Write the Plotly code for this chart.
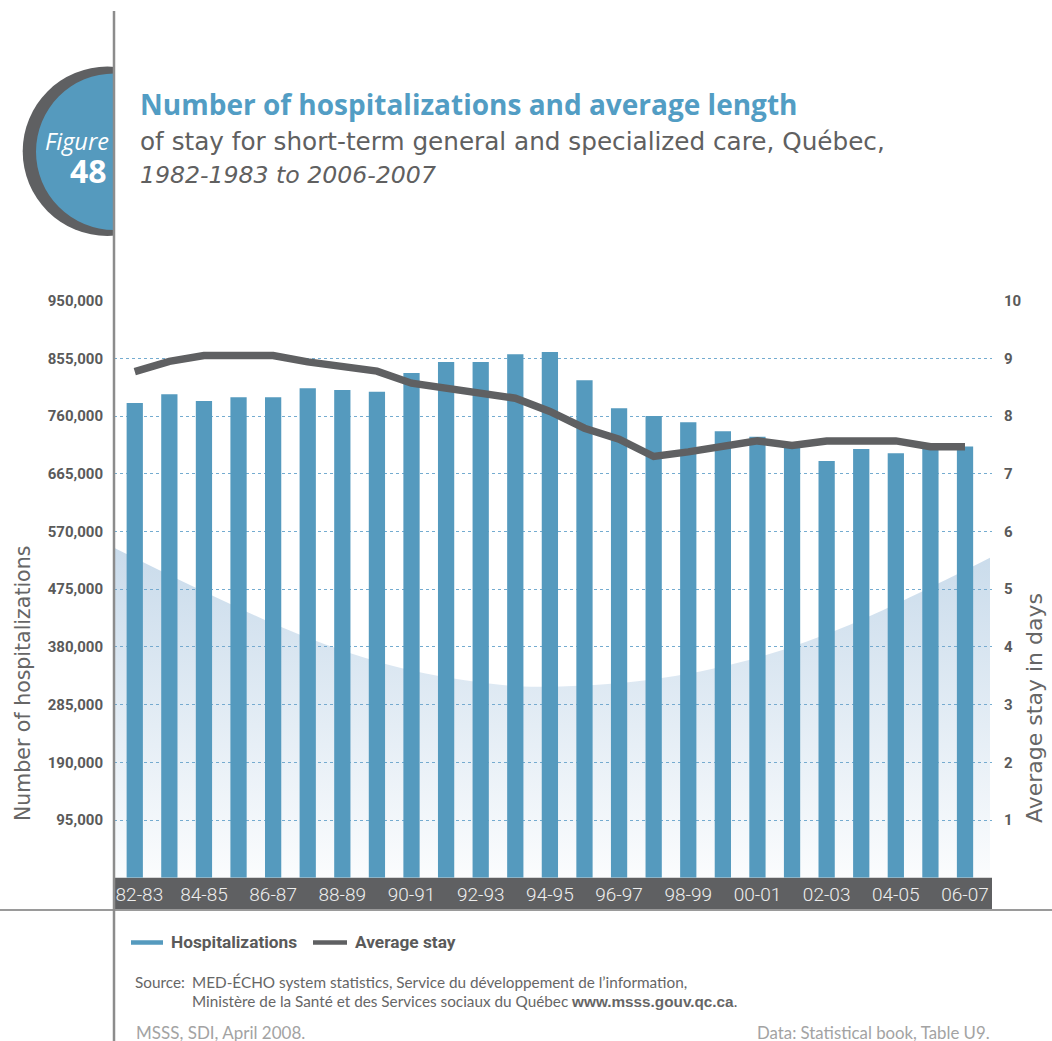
import plotly.graph_objects as go

W, H = 1052, 1041
M = 30  # fixed inner margin; everything below is placed in page pixels

seasons = ["82-83", "83-84", "84-85", "85-86", "86-87", "87-88", "88-89", "89-90",
           "90-91", "91-92", "92-93", "93-94", "94-95", "95-96", "96-97", "97-98",
           "98-99", "99-00", "00-01", "01-02", "02-03", "03-04", "04-05", "05-06", "06-07"]
hospitalizations = [781500, 796000, 785000, 791000, 791000, 806000, 803000, 800000,
                    831000, 849000, 849000, 862000, 865500, 819000, 773000, 760000,
                    750000, 735000, 726000, 710000, 686000, 706000, 699000, 710000, 710000]
average_stay = [8.77, 8.95, 9.05, 9.05, 9.05, 8.94, 8.86, 8.78, 8.57, 8.48, 8.38, 8.31,
                8.08, 7.79, 7.6, 7.3, 7.38, 7.47, 7.57, 7.49, 7.57, 7.57, 7.57, 7.47, 7.47]
label_seasons = seasons[::2]
hosp_ticks = [95000 * k for k in range(1, 11)]
stay_ticks = list(range(1, 11))

# decorative backdrop curve (pixels from plot's bottom-left corner)
backdrop_x = [0, 86, 186, 286, 386, 436, 536, 636, 736, 836, 876]
backdrop_h = [330, 288, 243, 210, 193, 191, 198, 218, 253, 300, 320]

BLUE = "#559abe"
DARK = "#5f6062"
TXT = "#5a5a5a"
NARROW = "Roboto, sans-serif"


def px(x):
    return (x - M) / (W - 2 * M)


def py(y):
    return 1 - (y - M) / (H - 2 * M)


PL, PR, PT, PB = 114, 992, 300.7, 877.7

fig = go.Figure()

# backdrop on the base axes (drawn under the overlaid bar/line subplots)
fig.add_trace(go.Scatter(
    x=backdrop_x, y=backdrop_h, mode="lines", line=dict(width=0, shape="spline"),
    fill="tozeroy",
    fillgradient=dict(type="vertical", start=0, stop=330,
                      colorscale=[[0, "rgba(120,165,205,0.03)"], [1, "rgba(120,165,205,0.40)"]]),
    hoverinfo="skip", showlegend=False, xaxis="x", yaxis="y"))

fig.add_trace(go.Bar(
    x=seasons, y=hospitalizations, width=0.47, marker=dict(color=BLUE, line=dict(width=0)),
    name="Hospitalizations", xaxis="x2", yaxis="y2", showlegend=False))

fig.add_trace(go.Scatter(
    x=seasons, y=average_stay, mode="lines", line=dict(color=DARK, width=7.5),
    name="Average stay", xaxis="x2", yaxis="y3", showlegend=False))

dom_x = [px(PL), px(PR)]
dom_y = [py(PB), py(PT)]

# first label nudged right so it clears the axis line
band_text = ["\u00a0\u00a0" + label_seasons[0]] + label_seasons[1:]

fig.update_layout(
    width=W, height=H, margin=dict(l=M, r=M, t=M, b=M, autoexpand=False),
    paper_bgcolor="white", plot_bgcolor="rgba(0,0,0,0)",
    showlegend=False,
    xaxis=dict(domain=dom_x, range=[0, PR - PL], visible=False, fixedrange=True),
    yaxis=dict(domain=dom_y, range=[0, PB - PT], visible=False, fixedrange=True),
    xaxis2=dict(overlaying="x", anchor="y2", type="category", range=[-0.6, 24.78],
                tickvals=label_seasons, ticktext=band_text, showgrid=False,
                showline=False, zeroline=False, ticks="", ticklabelstandoff=3,
                automargin=False,
                tickfont=dict(family="Roboto", size=19, color="#eeeeee", weight=300)),
    yaxis2=dict(overlaying="y", anchor="x2", side="left", range=[0, 950000],
                tickvals=hosp_ticks, ticktext=[f"{v:,}" for v in hosp_ticks],
                showgrid=True, gridcolor="#74acd0", griddash="dot", gridwidth=1.4,
                zeroline=False, showline=False, ticks="", ticklabelstandoff=10,
                automargin=False,
                tickfont=dict(family=NARROW, size=15, color=TXT, weight="bold")),
    yaxis3=dict(overlaying="y", anchor="x2", side="right", range=[0, 10],
                tickvals=stay_ticks, showgrid=False, zeroline=False, showline=False,
                ticks="", ticklabelstandoff=11, automargin=False,
                tickfont=dict(family=NARROW, size=15, color=TXT, weight="bold")),
)

shapes = [
    # category band
    dict(type="rect", xref="paper", yref="paper", x0=px(PL), x1=px(PR), y0=py(909.5), y1=py(PB),
         fillcolor=DARK, line=dict(width=0), layer="below"),
    # badge
    dict(type="circle", xref="paper", yref="paper", x0=px(22.7), x1=px(192.1), y0=py(236), y1=py(66.6),
         fillcolor=DARK, line=dict(width=0), layer="below"),
    dict(type="circle", xref="paper", yref="paper", x0=px(36), x1=px(192.6), y0=py(230), y1=py(73.4),
         fillcolor=BLUE, line=dict(width=0), layer="below"),
    dict(type="rect", xref="paper", yref="paper", x0=px(PL), x1=px(260), y0=py(250), y1=py(55),
         fillcolor="white", line=dict(width=0), layer="below"),
    # frame lines
    dict(type="line", xref="paper", yref="paper", x0=px(0), x1=px(W), y0=py(910), y1=py(910),
         line=dict(color="#9a9a9a", width=2), layer="above"),
    dict(type="line", xref="paper", yref="paper", x0=px(PL), x1=px(PL), y0=py(11), y1=py(H),
         line=dict(color="#8c8c8c", width=2.5), layer="above"),
    # legend keys
    dict(type="line", xref="paper", yref="paper", x0=px(131), x1=px(163), y0=py(942.5), y1=py(942.5),
         line=dict(color=BLUE, width=4.5), layer="above"),
    dict(type="line", xref="paper", yref="paper", x0=px(313), x1=px(347), y0=py(942.5), y1=py(942.5),
         line=dict(color=DARK, width=4.5), layer="above"),
]
fig.update_layout(shapes=shapes)


def note(text, x, y, size, color, family="Lato", xanchor="left", **kw):
    fig.add_annotation(text=text, x=px(x), y=py(y), xref="paper", yref="paper",
                       xanchor=xanchor, yanchor="middle", showarrow=False,
                       font=dict(size=size, color=color, family=family, **kw))


# badge text
note("<i>Figure</i>", 111, 141, 23.5, "white", family="Open Sans", xanchor="right")
note("<b>48</b>", 109, 170, 32, "white", family="Open Sans", xanchor="right")

# titles
note("<b>Number of hospitalizations and average length</b>", 138, 104, 28, "#529dc4",
     family="Open Sans")
note("of stay for short-term general and specialized care, Québec,", 138, 142, 24.7, "#606060",
     family="DejaVu Sans")
note("<i>1982-1983 to 2006-2007</i>", 138, 175, 23.6, "#606060", family="DejaVu Sans")

# axis titles
fig.add_annotation(text="Number of hospitalizations", x=px(23), y=py(684), xref="paper", yref="paper",
                   textangle=-90, showarrow=False, xanchor="center", yanchor="middle",
                   font=dict(size=20.5, color="#666666", family="DejaVu Sans"))
fig.add_annotation(text="Average stay in days", x=px(1034), y=py(708), xref="paper", yref="paper",
                   textangle=-90, showarrow=False, xanchor="center", yanchor="middle",
                   font=dict(size=22, color="#666666", family="DejaVu Sans"))

# legend text
note("<b>Hospitalizations</b>", 169, 942, 17.3, TXT, family=NARROW)
note("<b>Average stay</b>", 353, 942, 17.3, TXT, family=NARROW)

# source
note("Source:", 133, 982, 15.3, "#666666")
note("MED-ÉCHO system statistics, Service du développement de l’information,", 190, 982, 15.3, "#666666")
note("Ministère de la Santé et des Services sociaux du Québec "
     "<b><span style='font-family:Liberation Sans, Arial'>www.msss.gouv.qc.ca</span></b>.",
     190, 1001, 15.3, "#666666")

# footer
note("MSSS, SDI, April 2008.", 134, 1032, 17, "#a3a3a3")
note("Data: Statistical book, Table U9.", 992, 1032, 16.8, "#a3a3a3", xanchor="right")

fig.write_html(
    "out.html",
    config={"displayModeBar": False},
    post_script="document.documentElement.style.overflow='hidden';"
                "document.body.style.margin='0';document.body.style.overflow='hidden';",
)
